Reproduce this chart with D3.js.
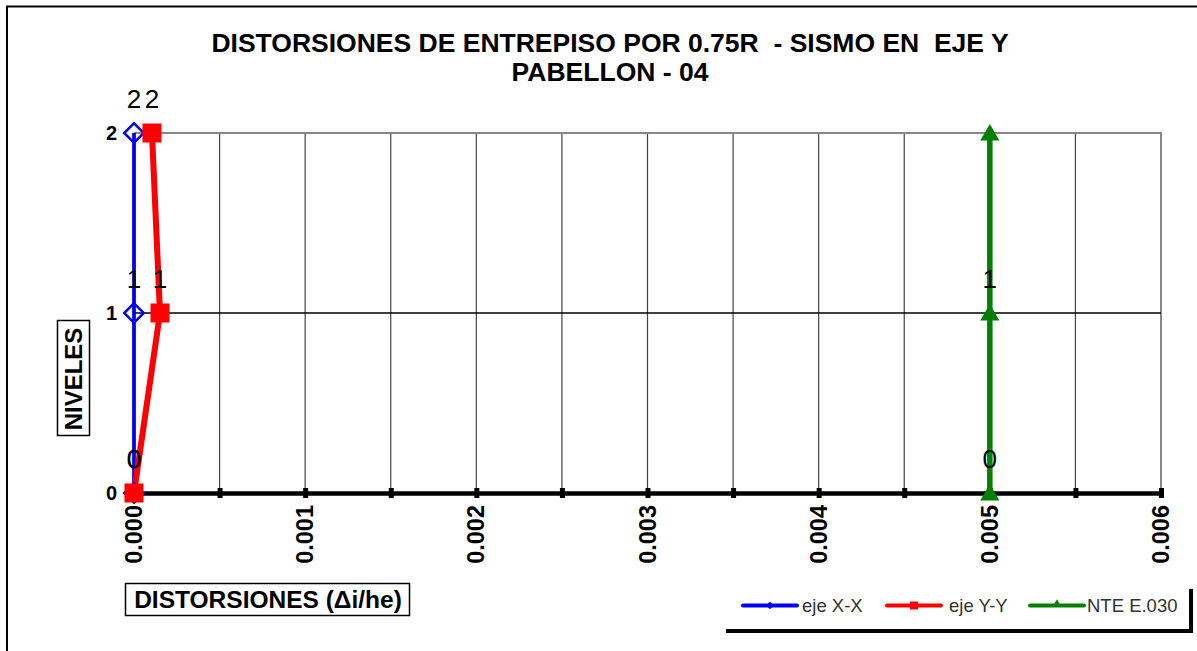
<!DOCTYPE html>
<html>
<head>
<meta charset="utf-8">
<script src="https://cdn.jsdelivr.net/npm/d3@7"></script>
<style>
  html, body { margin: 0; padding: 0; background: #fff; }
  svg { display: block; font-family: Arial, "Liberation Sans", sans-serif; }
</style>
</head>
<body>
<svg id="chart" width="1197" height="651"></svg>
<script>
// Storey levels and drift values per series
const levels = [0, 1, 2];
const ejeXX = [0.0000, 0.0000, 0.0000];
const ejeYY = [0.0000, 0.000152, 0.000105];
const nteE030 = [0.005, 0.005, 0.005];
const xTicks = [0, 0.001, 0.002, 0.003, 0.004, 0.005, 0.006];
const xMinorTicks = [0.0005, 0.0015, 0.0025, 0.0035, 0.0045, 0.0055];
const yTicks = [0, 1, 2];
const seriesNames = ["eje X-X", "eje Y-Y", "NTE E.030"];
const seriesColors = ["#0000ff", "#ff0000", "#008000"];

const svg = d3.select("#chart");

// outer chart frame (top & left edges visible)
svg.append("path")
  .attr("d", "M7,651 L7,6.5 L1197,6.5")
  .attr("fill", "none").attr("stroke", "#000").attr("stroke-width", 2);

const x = d3.scaleLinear().domain([0, 0.006]).range([134, 1161]);
const y = d3.scaleLinear().domain([0, 2]).range([493, 133]);

// Title
const title = svg.append("text")
  .attr("text-anchor", "middle")
  .attr("font-weight", "bold").attr("font-size", 26.5).attr("fill", "#000")
  .style("white-space", "pre");
title.append("tspan").attr("x", 610).attr("y", 52).text("DISTORSIONES DE ENTREPISO POR 0.75R  - SISMO EN  EJE Y");
title.append("tspan").attr("x", 610).attr("y", 81).text("PABELLON - 04");

// vertical grid lines at every half step
const gridVals = d3.range(1, 12).map(i => i * 0.0005);
svg.append("g").selectAll("line").data(gridVals).join("line")
  .attr("x1", d => x(d)).attr("x2", d => x(d))
  .attr("y1", y(2)).attr("y2", y(0))
  .attr("stroke", "#444")
  .attr("stroke-width", 1.2);

// plot border (top and right)
svg.append("path")
  .attr("d", `M${x(0)},${y(2)} L${x(0.006)},${y(2)} L${x(0.006)},${y(0)}`)
  .attr("fill", "none").attr("stroke", "#888").attr("stroke-width", 2);

// horizontal grid at level 1
svg.append("line")
  .attr("x1", x(0)).attr("x2", x(0.006))
  .attr("y1", y(1)).attr("y2", y(1))
  .attr("stroke", "#000").attr("stroke-width", 1.3);

// y axis line
svg.append("line")
  .attr("x1", x(0)).attr("x2", x(0))
  .attr("y1", y(2)).attr("y2", y(0))
  .attr("stroke", "#000").attr("stroke-width", 3);

// x axis
const xAxis = d3.axisBottom(x).tickValues(xTicks.concat(xMinorTicks)).tickSize(0).tickFormat("");
const gx = svg.append("g").attr("transform", `translate(0,${y(0)})`).call(xAxis);
gx.select(".domain").attr("stroke", "#000").attr("stroke-width", 4.5);
gx.selectAll(".tick").append("rect")
  .attr("x", -2.5).attr("y", -5).attr("width", 5).attr("height", 10).attr("fill", "#000");

// rotated x tick labels
svg.append("g").selectAll("text").data(xTicks).join("text")
  .attr("transform", d => `translate(${x(d) + 8},505) rotate(-90)`)
  .attr("text-anchor", "end")
  .attr("font-weight", "bold").attr("font-size", 23.5).attr("fill", "#000")
  .text(d => d3.format(".3f")(d));

// y axis labels
const yAxis = d3.axisLeft(y).tickValues(yTicks).tickSize(0).tickPadding(0).tickFormat(d3.format("d"));
const gy = svg.append("g").attr("transform", `translate(${x(0) - 17},0)`).call(yAxis);
gy.select(".domain").remove();
gy.selectAll("text").attr("font-size", 20).attr("font-weight", "bold")
  .attr("font-family", "Arial, 'Liberation Sans', sans-serif").attr("fill", "#000");

// axis titles in boxes
svg.append("rect").attr("x", 125.5).attr("y", 583.5).attr("width", 284).attr("height", 32)
  .attr("fill", "#fff").attr("stroke", "#000").attr("stroke-width", 1.5);
svg.append("text").attr("x", 268).attr("y", 608).attr("text-anchor", "middle")
  .attr("font-weight", "bold").attr("font-size", 24.5).text("DISTORSIONES (Δi/he)");

svg.append("rect").attr("x", 57.5).attr("y", 320.5).attr("width", 32).attr("height", 115)
  .attr("fill", "#fff").attr("stroke", "#000").attr("stroke-width", 1.5);
svg.append("text").attr("transform", "translate(82,379) rotate(-90)").attr("text-anchor", "middle")
  .attr("font-weight", "bold").attr("font-size", 24).text("NIVELES");

// series
const line = d3.line().x(d => x(d[0])).y(d => y(d[1]));
const series = [
  { vals: ejeXX, color: seriesColors[0], width: 3.5 },
  { vals: ejeYY, color: seriesColors[1], width: 6 },
  { vals: nteE030, color: seriesColors[2], width: 5.5 }
];

series.forEach((s) => {
  const pts = s.vals.map((v, i) => [v, levels[i]]);
  svg.append("path").datum(pts).attr("d", line)
    .attr("fill", "none").attr("stroke", s.color).attr("stroke-width", s.width)
    .attr("stroke-linejoin", "round");
});

// markers
// diamond (hollow)
svg.append("g").selectAll("path").data(ejeXX.map((v, i) => [v, levels[i]])).join("path")
  .attr("transform", d => `translate(${x(d[0])},${y(d[1])}) rotate(45)`)
  .attr("d", d3.symbol(d3.symbolSquare, 190)())
  .attr("fill", "none").attr("stroke", seriesColors[0]).attr("stroke-width", 2.5);
// squares (filled)
svg.append("g").selectAll("rect").data(ejeYY.map((v, i) => [v, levels[i]])).join("rect")
  .attr("x", d => x(d[0]) - 9.5).attr("y", d => y(d[1]) - 9.5)
  .attr("width", 19).attr("height", 19).attr("fill", seriesColors[1]);
// triangles
svg.append("g").selectAll("path").data(nteE030.map((v, i) => [v, levels[i]])).join("path")
  .attr("transform", d => `translate(${x(d[0])},${y(d[1]) + 2})`)
  .attr("d", d3.symbol(d3.symbolTriangle, 160)())
  .attr("fill", seriesColors[2]);

// data labels (level values)
const labelData = [];
series.forEach((s, si) => {
  s.vals.forEach((v, i) => {
    if (si === 2 && levels[i] === 2) return;
    labelData.push({ xv: v, lv: levels[i] });
  });
});
svg.append("g").selectAll("text").data(labelData).join("text")
  .attr("x", d => x(d.xv)).attr("y", d => y(d.lv) - 25)
  .attr("text-anchor", "middle").attr("font-size", 26).attr("fill", "#000")
  .text(d => d.lv);

// legend with shadow
svg.append("path").attr("d", "M726,631 L1191,631 L1191,589")
  .attr("fill", "none").attr("stroke", "#000").attr("stroke-width", 4);
const legendItems = [
  { x: 743, tx: 802, type: "diamond" },
  { x: 887, tx: 949, type: "square" },
  { x: 1030, tx: 1087, type: "triangle" }
];
legendItems.forEach((it, i) => {
  const g = svg.append("g");
  g.append("line").attr("x1", it.x).attr("x2", it.x + 54).attr("y1", 605.5).attr("y2", 605.5)
    .attr("stroke", seriesColors[i]).attr("stroke-width", 4).attr("stroke-linecap", "round");
  const mx = it.x + 27;
  if (it.type === "diamond") {
    g.append("path").attr("transform", `translate(${mx},605.5) rotate(45)`)
      .attr("d", d3.symbol(d3.symbolSquare, 30)()).attr("fill", seriesColors[i]);
  } else if (it.type === "square") {
    g.append("rect").attr("x", mx - 4).attr("y", 601.5).attr("width", 8).attr("height", 8).attr("fill", seriesColors[i]);
  } else {
    g.append("path").attr("transform", `translate(${mx},604.5)`)
      .attr("d", d3.symbol(d3.symbolTriangle, 35)()).attr("fill", seriesColors[i]);
  }
  g.append("text").attr("x", it.tx).attr("y", 612).attr("font-size", 18.5).attr("fill", "#333")
    .text(seriesNames[i]);
});
</script>
</body>
</html>
